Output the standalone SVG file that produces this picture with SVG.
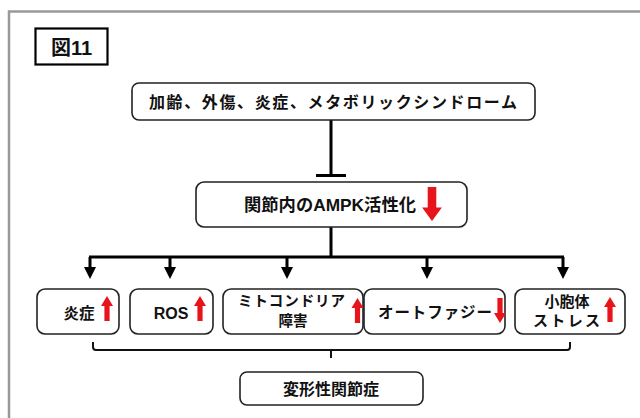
<svg xmlns="http://www.w3.org/2000/svg" width="640" height="418" viewBox="0 0 640 418">
<style>
.box{fill:#fff;stroke:#222;stroke-width:1.6}
.t{font-family:"Liberation Sans","Noto Sans CJK JP",sans-serif;font-weight:bold;fill:#111;text-anchor:middle}
.ln{fill:none;stroke:#000;stroke-width:3}
.br{fill:none;stroke:#111;stroke-width:2}
</style>
<defs>
<path id="up" d="M0,0 L6,10 L2.6,10 L2.6,25 L-2.6,25 L-2.6,10 L-6,10 Z" fill="#e8141b"/>
<path id="down" d="M0,25 L6,15 L2.6,15 L2.6,0 L-2.6,0 L-2.6,15 L-6,15 Z" fill="#e8141b"/>
<marker id="ah" markerUnits="userSpaceOnUse" markerWidth="12" markerHeight="12" refX="6" refY="11" orient="auto-start-reverse" viewBox="0 0 12 12">
<path d="M0,0 L12,0 L6,11 Z" fill="#000" transform="rotate(0)"/>
</marker>
</defs>
<rect width="640" height="418" fill="#fff"/>
<g id="frame">
<path d="M9,418 V11.5 H640" fill="none" stroke="#999" stroke-width="2.5"/>
</g>
<g id="title">
<rect x="35.5" y="28.5" width="72" height="36" fill="#fff" stroke="#000" stroke-width="2.2"/>
<text class="t" x="71.5" y="55" font-size="20">図11</text>
</g>
<g id="connectors">
<path class="ln" d="M331,120 V175"/>
<path class="ln" d="M316,175.5 H346"/>
<path class="ln" d="M331,227 V257"/>
<path class="ln" d="M89,257 H564"/>
<path d="M90,257 V268 M170,257 V268 M287,257 V268 M427,257 V268 M563,257 V268" stroke="#000" stroke-width="3" fill="none"/>
<path d="M84,267 H96 L90,279 Z M164,267 H176 L170,279 Z M281,267 H293 L287,279 Z M421,267 H433 L427,279 Z M557,267 H569 L563,279 Z" fill="#000"/>
<path class="br" d="M93,342 V347 Q93,350 96,350 H567 Q570,350 570,347 V342"/>
<path class="br" d="M331,350 V358"/>
</g>
<g id="causes">
<rect class="box" x="132" y="83" width="403" height="37" rx="7"/>
<text class="t" x="333" y="108" font-size="16" textLength="368" lengthAdjust="spacing">加齢、外傷、炎症、メタボリックシンドローム</text>
</g>
<g id="ampk">
<rect class="box" x="196" y="182" width="271" height="45" rx="8"/>
<text class="t" x="330" y="211" font-size="17" textLength="172" lengthAdjust="spacingAndGlyphs">関節内のAMPK活性化</text>
<use href="#down" transform="translate(432,187) scale(1.65,1.36)"/>
</g>
<g id="inflammation">
<rect class="box" x="37" y="289" width="82" height="45" rx="8"/>
<text class="t" x="79" y="319" font-size="15.5">炎症</text>
<use href="#up" transform="translate(107,296)"/>
</g>
<g id="ros">
<rect class="box" x="130" y="289" width="83" height="45" rx="8"/>
<text class="t" x="171" y="319" font-size="16">ROS</text>
<use href="#up" transform="translate(200,296)"/>
</g>
<g id="mito">
<rect class="box" x="223" y="289" width="140" height="45" rx="8"/>
<text class="t" x="291.5" y="306" font-size="14.5" textLength="107" lengthAdjust="spacing">ミトコンドリア</text>
<text class="t" x="293" y="326" font-size="14.5">障害</text>
<use href="#up" transform="translate(357.5,298)"/>
</g>
<g id="autophagy">
<rect class="box" x="364" y="289" width="141" height="45" rx="8"/>
<text class="t" x="435" y="318" font-size="15.5" textLength="114" lengthAdjust="spacing">オートファジー</text>
<use href="#down" transform="translate(500,298)"/>
</g>
<g id="er">
<rect class="box" x="515" y="289" width="110" height="45" rx="8"/>
<text class="t" x="567" y="307" font-size="15">小胞体</text>
<text class="t" x="566.5" y="326" font-size="15" textLength="67" lengthAdjust="spacing">ストレス</text>
<use href="#up" transform="translate(610,297)"/>
</g>
<g id="oa">
<rect class="box" x="240" y="372" width="183" height="33" rx="7"/>
<text class="t" x="331" y="395" font-size="16">変形性関節症</text>
</g>
</svg>
